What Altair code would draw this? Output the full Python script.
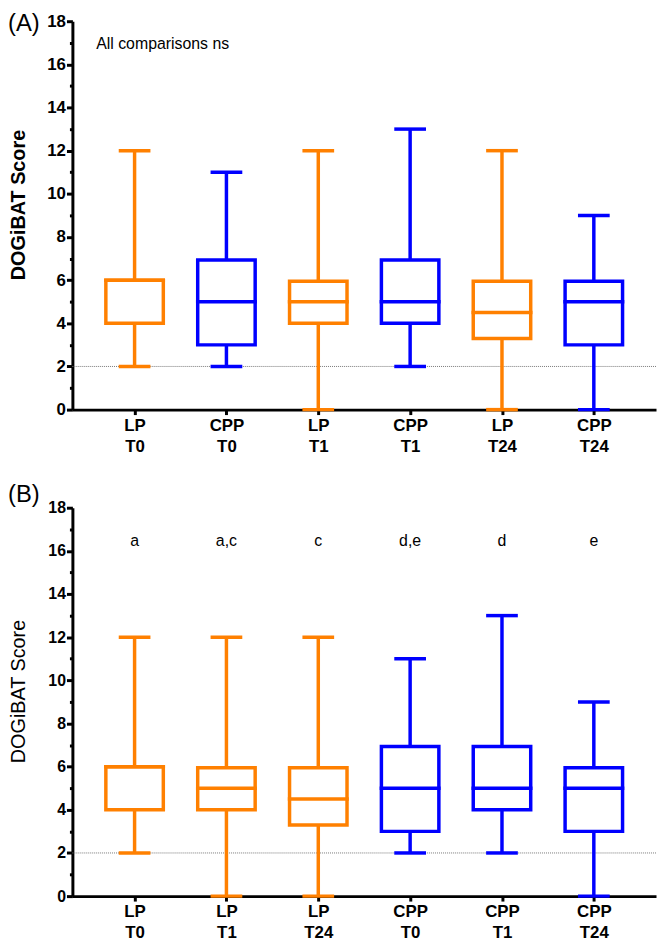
import altair as alt
import pandas as pd

# ---- data ----
stat_groups = ["LP T0", "CPP T0", "LP T1", "CPP T1", "LP T24", "CPP T24"]
mins = [2, 2, 0, 2, 0, 0]
q1s = [4, 3, 4, 4, 3.3, 3]
meds = [6, 5, 5, 5, 4.5, 5]
q3s = [6, 6.93, 5.95, 6.93, 5.95, 5.95]
maxs = [12, 11, 12, 13, 12, 9]

order_a = ["LP T0", "CPP T0", "LP T1", "CPP T1", "LP T24", "CPP T24"]
order_b = ["LP T0", "LP T1", "LP T24", "CPP T0", "CPP T1", "CPP T24"]
letters_b = ["a", "a,c", "c", "d,e", "d", "e"]
y_values = list(range(0, 19))
ref_value = 2

ORANGE = "#FF8000"
BLUE = "#0000FF"
FONT = "Liberation Sans"

df = pd.DataFrame({
    "group": stat_groups,
    "arm": [g.split(" ")[0] for g in stat_groups],
    "min": mins, "q1": q1s, "med": meds, "q3": q3s, "max": maxs,
})

W, H = 589, 392
LW = 3.5


def panel(order, tag, tag_y, bold_title, label_size, annot):
    xscale = alt.Scale(type="point", domain=order, padding=0.677)
    xaxis = alt.Axis(title=None, labelExpr="split(datum.label, ' ')", labelAngle=0,
                     labelFont=FONT, labelFontSize=17, labelFontWeight="bold",
                     labelColor="black", labelLineHeight=21, labelPadding=3,
                     tickSize=5, tickWidth=3, tickColor="black",
                     domainWidth=3, domainColor="black", grid=False)
    yscale = alt.Scale(domain=[0, 18], nice=False, zero=True)
    yaxis = alt.Axis(values=y_values, title="DOGiBAT Score",
                     labelExpr="datum.value % 2 == 0 ? datum.label : ''",
                     labelFont=FONT, labelFontSize=label_size, labelFontWeight="bold",
                     labelColor="black", labelPadding=1,
                     tickSize={"condition": {"test": "datum.value % 2 == 0", "value": 6}, "value": 3},
                     tickWidth=3, tickColor="black", domainWidth=3, domainColor="black",
                     grid=False, titleFont=FONT, titleFontSize=20,
                     titleFontWeight="bold" if bold_title else "normal",
                     titleColor="black", titleAngle=270, titleX=-54, titleY=185,
                     titleAlign="center", titleBaseline="middle")
    X = alt.X("group:N", scale=xscale, axis=xaxis)
    cscale = alt.Scale(domain=["LP", "CPP"], range=[ORANGE, BLUE])
    color = alt.Color("arm:N", scale=cscale, legend=None)

    base = alt.Chart(df)
    ref = alt.Chart(pd.DataFrame({"v": [ref_value]})).mark_rule(
        color="#777777", strokeWidth=1, strokeDash=[1, 1]).encode(
        y=alt.Y("v:Q", scale=yscale, axis=yaxis))
    whisk = base.mark_rule(strokeWidth=LW).encode(
        x=X, y=alt.Y("min:Q", scale=yscale, axis=yaxis), y2="max:Q", color=color)
    cap_lo = base.mark_tick(size=32, thickness=LW, opacity=1).encode(
        x=X, y=alt.Y("min:Q", scale=yscale, axis=yaxis), color=color)
    cap_hi = base.mark_tick(size=32, thickness=LW, opacity=1).encode(
        x=X, y=alt.Y("max:Q", scale=yscale, axis=yaxis), color=color)
    box = base.mark_bar(size=58, fill="white", strokeWidth=LW).encode(
        x=X, y=alt.Y("q1:Q", scale=yscale, axis=yaxis), y2="q3:Q",
        stroke=alt.Stroke("arm:N", scale=cscale, legend=None))
    med = base.mark_tick(size=58 + LW, thickness=LW, opacity=1).encode(
        x=X, y=alt.Y("med:Q", scale=yscale, axis=yaxis), color=color)
    tag_layer = alt.Chart(pd.DataFrame({"t": [tag]})).mark_text(
        align="left", baseline="middle", font=FONT, fontSize=24, color="black").encode(
        x=alt.value(-65), y=alt.value(tag_y), text="t:N")
    layers = [ref, whisk, cap_lo, cap_hi, box, med, annot(X, yscale, yaxis), tag_layer]
    return alt.layer(*layers).properties(width=W, height=H)


def annot_a(X, yscale, yaxis):
    return alt.Chart(pd.DataFrame({"t": ["All comparisons ns"], "y": [16.95]})).mark_text(
        align="left", baseline="middle", font=FONT, fontSize=16, color="black").encode(
        x=alt.value(24), y=alt.Y("y:Q", scale=yscale, axis=yaxis), text="t:N")


def annot_b(X, yscale, yaxis):
    return alt.Chart(pd.DataFrame({"group": order_b, "t": letters_b,
                                   "y": [16.45] * len(order_b)})).mark_text(
        align="center", baseline="middle", font=FONT, fontSize=16, color="black").encode(
        x=X, y=alt.Y("y:Q", scale=yscale, axis=yaxis), text="t:N")


pa = panel(order_a, "(A)", 3, True, 17, annot_a)
pb = panel(order_b, "(B)", -13, False, 16, annot_b)

chart = alt.vconcat(pa, pb, spacing=29).properties(padding=0).configure_view(stroke=None)

chart.save("out.html", embed_options={"renderer": "svg", "actions": False})
